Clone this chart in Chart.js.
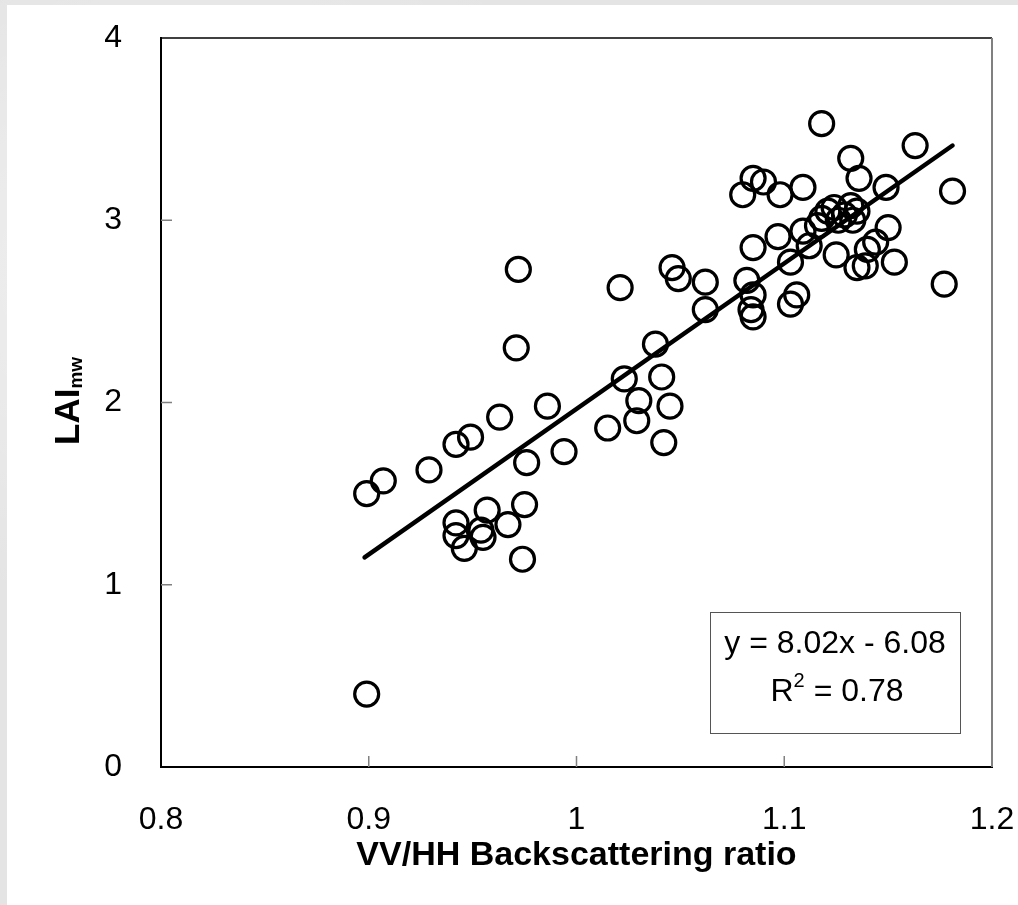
<!DOCTYPE html>
<html lang="en">
<head>
    <meta charset="UTF-8">
    <title>LAI vs VV/HH Backscattering ratio</title>
    <script src="https://cdn.jsdelivr.net/npm/chart.js"></script>
    <style>
        html, body { margin: 0; padding: 0; }
        body {
            width: 1018px; height: 905px; overflow: hidden;
            background: #e4e4e4;
            background-image:
                radial-gradient(ellipse at 20% 30%, rgba(255,255,255,0.5), rgba(255,255,255,0) 40%),
                radial-gradient(ellipse at 80% 70%, rgba(200,200,200,0.4), rgba(200,200,200,0) 45%);
        }
        #panel { position: absolute; left: 7px; top: 5px; width: 1011px; height: 900px; background: #fff; }
    </style>
</head>
<body>
    <div id="panel"><canvas id="chart"></canvas></div>

    <script>
        // measured points (VV/HH ratio, LAI_mw)
        const ratioX = [
            0.899, 0.907, 0.929, 0.942, 0.949, 0.963, 0.972, 0.971, 0.976, 0.986,
            0.994, 1.015, 1.021, 1.023, 1.030, 1.029, 1.038, 1.041, 1.045, 1.042,
            1.046, 1.049, 1.062, 1.062, 0.942, 0.942, 0.946, 0.954, 0.955, 0.957,
            0.967, 0.975, 0.974, 0.899, 1.118, 1.163, 1.132, 1.136, 1.149, 1.181,
            1.085, 1.090, 1.080, 1.098, 1.109, 1.116, 1.118, 1.121, 1.124, 1.126,
            1.129, 1.132, 1.133, 1.135, 1.085, 1.097, 1.109, 1.112, 1.103, 1.125,
            1.144, 1.150, 1.140, 1.139, 1.135, 1.153, 1.177, 1.082, 1.085, 1.084,
            1.085, 1.106, 1.103
        ];
        const laiY = [
            1.50, 1.57, 1.63, 1.77, 1.81, 1.92, 2.73, 2.30, 1.67, 1.98,
            1.73, 1.86, 2.63, 2.13, 2.01, 1.90, 2.32, 2.14, 1.98, 1.78,
            2.74, 2.68, 2.66, 2.51, 1.34, 1.27, 1.20, 1.30, 1.26, 1.41,
            1.33, 1.44, 1.14, 0.40, 3.53, 3.41, 3.34, 3.23, 3.18, 3.16,
            3.23, 3.21, 3.14, 3.14, 3.18, 2.97, 3.01, 3.05, 3.07, 3.00,
            3.03, 3.08, 3.00, 3.05, 2.85, 2.91, 2.94, 2.86, 2.77, 2.81,
            2.88, 2.96, 2.84, 2.75, 2.74, 2.77, 2.65, 2.67, 2.59, 2.51,
            2.47, 2.59, 2.54
        ];

        // linear trend line end points
        const trendX = [0.898, 1.181];
        const trendY = [1.15, 3.41];

        const xTicks = [0.8, 0.9, 1, 1.1, 1.2];
        const yTicks = [0, 1, 2, 3, 4];

        const equationText = 'y = 8.02x - 6.08';
        const r2Text = '0.78';

        const FONT = '"Liberation Sans", Arial, sans-serif';

        // inward tick marks + top/right frame
        const framePlugin = {
            id: 'frame',
            beforeDatasetsDraw(chart) {
                const { ctx, chartArea: a, scales } = chart;
                ctx.save();
                ctx.strokeStyle = '#808080';
                ctx.lineWidth = 1.5;
                ctx.beginPath();
                yTicks.forEach(v => {
                    if (v === yTicks[0] || v === yTicks[yTicks.length - 1]) return;
                    const py = scales.y.getPixelForValue(v);
                    ctx.moveTo(a.left, py);
                    ctx.lineTo(a.left + 11, py);
                });
                xTicks.forEach(v => {
                    if (v === xTicks[0] || v === xTicks[xTicks.length - 1]) return;
                    const px = scales.x.getPixelForValue(v);
                    ctx.moveTo(px, a.bottom);
                    ctx.lineTo(px, a.bottom - 11);
                });
                ctx.stroke();
                ctx.restore();
            },
            afterDraw(chart) {
                const { ctx, chartArea: a } = chart;
                ctx.save();
                ctx.strokeStyle = '#000';
                ctx.lineWidth = 1.5;
                ctx.beginPath();
                ctx.moveTo(a.left, a.top);
                ctx.lineTo(a.right, a.top);
                ctx.stroke();
                ctx.strokeStyle = '#808080';
                ctx.lineWidth = 2;
                ctx.beginPath();
                ctx.moveTo(a.right, a.top);
                ctx.lineTo(a.right, a.bottom);
                ctx.stroke();
                ctx.restore();
            }
        };

        // y title LAI with subscript mw
        const yTitlePlugin = {
            id: 'yTitle',
            afterDraw(chart) {
                const ctx = chart.ctx;
                ctx.save();
                ctx.translate(72, 440);
                ctx.rotate(-Math.PI / 2);
                ctx.fillStyle = '#000';
                ctx.textBaseline = 'alphabetic';
                ctx.textAlign = 'left';
                ctx.font = 'bold 35px ' + FONT;
                ctx.fillText('LAI', 0, 0);
                const w = ctx.measureText('LAI').width;
                ctx.font = 'bold 19px ' + FONT;
                ctx.fillText('mw', w, 3);
                ctx.restore();
            }
        };

        // regression equation box
        const equationPlugin = {
            id: 'equation',
            afterDraw(chart) {
                const { ctx, chartArea: a } = chart;
                const right = a.right - 32, bottom = a.bottom - 34;
                const left = right - 250, top = bottom - 121;
                const cx = (left + right) / 2;
                ctx.save();
                ctx.fillStyle = '#fff';
                ctx.fillRect(left, top, right - left, bottom - top);
                ctx.strokeStyle = '#555';
                ctx.lineWidth = 1;
                ctx.strokeRect(left + 0.5, top + 0.5, right - left, bottom - top);

                ctx.fillStyle = '#000';
                ctx.textBaseline = 'middle';
                ctx.textAlign = 'center';
                ctx.font = '32px ' + FONT;
                ctx.fillText(equationText, cx, top + 32);

                // R² line
                ctx.textAlign = 'left';
                const rest = ' = ' + r2Text;
                const wR = ctx.measureText('R').width;
                const wRest = ctx.measureText(rest).width;
                ctx.font = '20px ' + FONT;
                const wSup = ctx.measureText('2').width;
                let x = cx + 2 - (wR + wSup + wRest) / 2;
                const y2 = top + 80;
                ctx.font = '32px ' + FONT;
                ctx.fillText('R', x, y2);
                x += wR;
                ctx.font = '20px ' + FONT;
                ctx.fillText('2', x, y2 - 11);
                x += wSup;
                ctx.font = '32px ' + FONT;
                ctx.fillText(rest, x, y2);
                ctx.restore();
            }
        };

        const points = ratioX.map((x, i) => ({ x: x, y: laiY[i] }));
        const trend = trendX.map((x, i) => ({ x: x, y: trendY[i] }));

        new Chart(document.getElementById('chart'), {
            type: 'scatter',
            data: {
                datasets: [
                    {
                        type: 'line',
                        label: 'Linear fit',
                        data: trend,
                        borderColor: '#000',
                        borderWidth: 4.5,
                        borderCapStyle: 'round',
                        pointRadius: 0,
                        fill: false
                    },
                    {
                        label: 'LAI',
                        data: points,
                        pointStyle: 'circle',
                        pointRadius: 12,
                        pointHoverRadius: 12,
                        borderWidth: 3.2,
                        borderColor: '#000',
                        backgroundColor: 'rgba(0,0,0,0)'
                    }
                ]
            },
            options: {
                responsive: true,
                maintainAspectRatio: false,
                animation: false,
                layout: { autoPadding: false, padding: { top: 33, right: 26, left: 0, bottom: 0 } },
                plugins: { legend: { display: false }, tooltip: { enabled: false } },
                scales: {
                    x: {
                        type: 'linear',
                        min: 0.8, max: 1.2,
                        afterBuildTicks: s => { s.ticks = xTicks.map(v => ({ value: v })); },
                        afterFit: s => {
                            s.height = 138;
                            s.paddingLeft = 0;
                            s.paddingRight = 0;
                        },
                        grid: { display: false },
                        border: { display: true, color: '#000', width: 2 },
                        ticks: {
                            color: '#000',
                            padding: 26,
                            font: { family: FONT, size: 32 },
                            callback: v => String(v)
                        },
                        title: {
                            display: true,
                            text: 'VV/HH Backscattering ratio',
                            color: '#000',
                            font: { family: FONT, size: 34, weight: 'bold' },
                            padding: { top: 0, bottom: 29 }
                        }
                    },
                    y: {
                        type: 'linear',
                        min: 0, max: 4,
                        afterBuildTicks: s => { s.ticks = yTicks.map(v => ({ value: v })); },
                        afterFit: s => {
                            s.width = 154;
                            s.paddingTop = 0;
                            s.paddingBottom = 0;
                        },
                        grid: { display: false },
                        border: { display: true, color: '#000', width: 2 },
                        ticks: {
                            color: '#000',
                            padding: 31,
                            font: { family: FONT, size: 32 },
                            callback: v => String(v)
                        }
                    }
                }
            },
            plugins: [framePlugin, yTitlePlugin, equationPlugin]
        });
    </script>
</body>
</html>
